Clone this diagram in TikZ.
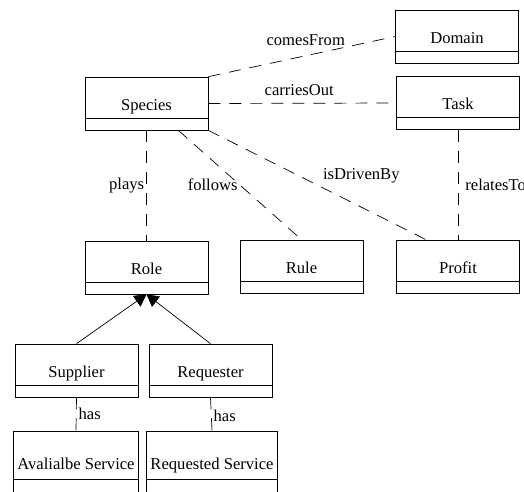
\documentclass[tikz,border=0pt]{standalone}
\usepackage{fontspec}
\setmainfont{Liberation Serif}
\usetikzlibrary{arrows.meta}

\begin{document}
\begin{tikzpicture}[x=1pt, y=-1pt, line width=0.7pt, font=\fontsize{16.6}{20}\selectfont,
  box/.style={shape=rectangle, draw=black, minimum width=123pt, inner xsep=4pt, inner ysep=0pt,
    text height=33pt, text depth=20pt,
    path picture={\draw ([yshift=-#1]path picture bounding box.north west) -- ([yshift=-#1]path picture bounding box.north east);}},
  box/.default=41pt,
  link/.style={dash pattern=on 12pt off 9pt},
  lbl/.style={inner sep=2pt}]
\useasboundingbox (0,0) rectangle (524,491);
\clip (0,0) rectangle (524,491);
\node[box] (domain) at (457,36.5) {Domain};
\node[box] (species) at (146.5,103.5) {Species};
\node[box] (task) at (458,103) {Task};
\node[box] (role) at (146.5,267.5) {Role};
\node[box] (rule) at (301.5,266.5) {Rule};
\node[box] (profit) at (458,267) {Profit};
\node[box] (supplier) at (76.5,370.5) {Supplier};
\node[box] (requester) at (210.5,370.5) {Requester};
\node[box=48pt, text height=38pt, text depth=30pt] (avail) at (76,465) {Avalialbe Service};
\node[box=48pt, text height=38pt, text depth=30pt] (requested) at (212,465) {Requested Service};
\draw[link] (species.north east) -- node[lbl, midway, above=9pt, xshift=4pt] {comesFrom} (domain.west);
\draw[link] (species.east) -- node[lbl, midway, above=5pt, xshift=-3pt] {carriesOut} (task.west);
\draw[link] (species.south) -- node[lbl, midway, left] {plays} (role.north);
\draw[link] ([xshift=-30pt]species.south east) -- node[lbl, midway, left] {follows} (rule.north);
\draw[link] (species.south east) -- node[lbl, midway, above right, xshift=3pt] {isDrivenBy} ([xshift=-31pt]profit.north);
\draw[link] (task.south) -- node[lbl, midway, right=5pt] {relatesTo} (profit.north);
\draw[-{Triangle[length=12pt, width=13pt]}] (supplier.north) -- (role.south);
\draw[-{Triangle[length=12pt, width=13pt]}] (requester.north) -- (role.south);
\draw[link] (supplier.south) -- node[lbl, midway, right] {has} (avail.north);
\draw[link] (requester.south) -- node[lbl, midway, right, yshift=-2pt] {has} (requested.north);
\end{tikzpicture}
\end{document}
